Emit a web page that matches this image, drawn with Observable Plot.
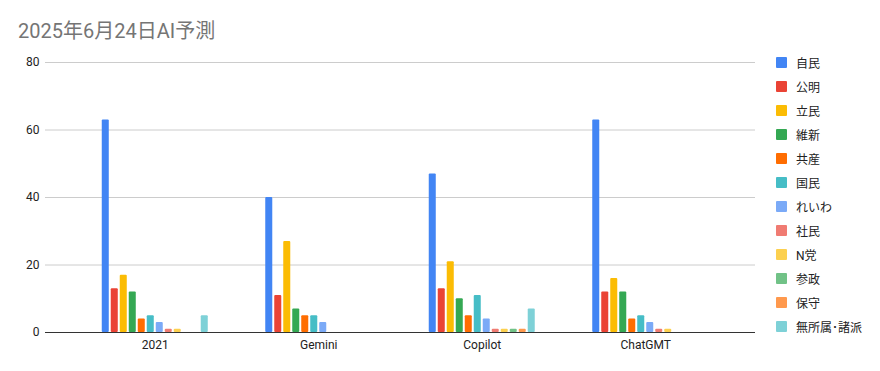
<!DOCTYPE html>
<html>
<head>
<meta charset="utf-8">
<script src="https://cdn.jsdelivr.net/npm/d3@7"></script>
<script src="https://cdn.jsdelivr.net/npm/@observablehq/plot@0.6"></script>
<style>
  html, body { margin: 0; padding: 0; background: #fff; }
  body { width: 880px; height: 371px; position: relative; overflow: hidden;
         font-family: Roboto, "Noto Sans CJK JP", sans-serif; }
  #title { position: absolute; left: 18px; top: 20px; font-size: 20px; line-height: 22px; color: #757575; white-space: nowrap; }
  .layer { position: absolute; left: 0; top: 0; }
  #legend { position: absolute; left: 776px; top: 50px; }
  .item { display: flex; align-items: center; height: 24px; font-size: 12px; color: #222; white-space: nowrap; }
  .sw { width: 11px; height: 11px; border-radius: 1px; margin-right: 9px; }
</style>
</head>
<body>
<div id="title"></div>
<div id="back" class="layer"></div>
<div id="front" class="layer"></div>
<div id="legend"></div>
<script>
const titleText = "2025年6月24日AI予測";
const groups = ["2021", "Gemini", "Copilot", "ChatGMT"];
const parties = ["自民", "公明", "立民", "維新", "共産", "国民", "れいわ", "社民", "N党", "参政", "保守", "無所属･諸派"];
const colors = ["#4285F4", "#EA4335", "#FBBC04", "#34A853", "#FF6D01", "#46BDC6", "#7BAAF7", "#F07B72", "#FCD04F", "#71C287", "#FF994D", "#7ED1D7"];
const v2021    = [63, 13, 17, 12, 4, 5, 3, 1, 1, 0, 0, 5];
const vGemini  = [40, 11, 27, 7, 5, 5, 3, 0, 0, 0, 0, 0];
const vCopilot = [47, 13, 21, 10, 5, 11, 4, 1, 1, 1, 1, 7];
const vChatGMT = [63, 12, 16, 12, 4, 5, 3, 1, 1, 0, 0, 0];
const yTicks = [0, 20, 40, 60, 80];

const series = [v2021, vGemini, vCopilot, vChatGMT];
const data = groups.flatMap((g, gi) => series[gi].map((v, pi) => ({group: g, party: parties[pi], value: v})));

document.getElementById("title").textContent = titleText;

const frame = {
  width: 880, height: 371,
  marginLeft: 45, marginRight: 125, marginTop: 62, marginBottom: 39,
  style: {fontFamily: 'Roboto, "Noto Sans CJK JP", sans-serif', fontSize: "12px", color: "#222", background: "transparent"}
};
const groupPad = {paddingInner: 0, paddingOuter: 0.1713, round: false};

// Back layer: grid, baseline, axes
const back = Plot.plot({
  ...frame,
  x: {type: "band", domain: groups, ...groupPad, label: null, axis: null},
  y: {domain: [0, 80], axis: null},
  marks: [
    Plot.ruleY(yTicks.filter(d => d > 0), {stroke: "#cccccc", strokeWidth: 1}),
    Plot.ruleY([0], {stroke: "#333333", strokeWidth: 1}),
    Plot.axisY(yTicks, {tickSize: 0, tickPadding: 6, label: null, fill: "#222", fontSize: 12}),
    Plot.axisX(groups, {tickSize: 0, tickPadding: 8, label: null, fill: "#222", fontSize: 12})
  ]
});
document.getElementById("back").appendChild(back);

// Front layer: grouped bars
const front = Plot.plot({
  ...frame,
  fx: {domain: groups, ...groupPad, axis: null, label: null},
  x: {domain: parties, axis: null, paddingInner: 0.22, paddingOuter: 3.195, round: false},
  y: {domain: [0, 80], axis: null},
  color: {domain: parties, range: colors},
  marks: [
    Plot.barY(data, {fx: "group", x: "party", y: "value", fill: "party", filter: d => d.value > 0, rx: 1}),
    Plot.ruleY([0], {stroke: "#333333", strokeWidth: 1})
  ]
});
document.getElementById("front").appendChild(front);

const legend = document.getElementById("legend");
parties.forEach((p, i) => {
  const item = document.createElement("div");
  item.className = "item";
  const sw = document.createElement("div");
  sw.className = "sw";
  sw.style.background = colors[i];
  const t = document.createElement("span");
  t.textContent = p;
  item.appendChild(sw);
  item.appendChild(t);
  legend.appendChild(item);
});
</script>
</body>
</html>
